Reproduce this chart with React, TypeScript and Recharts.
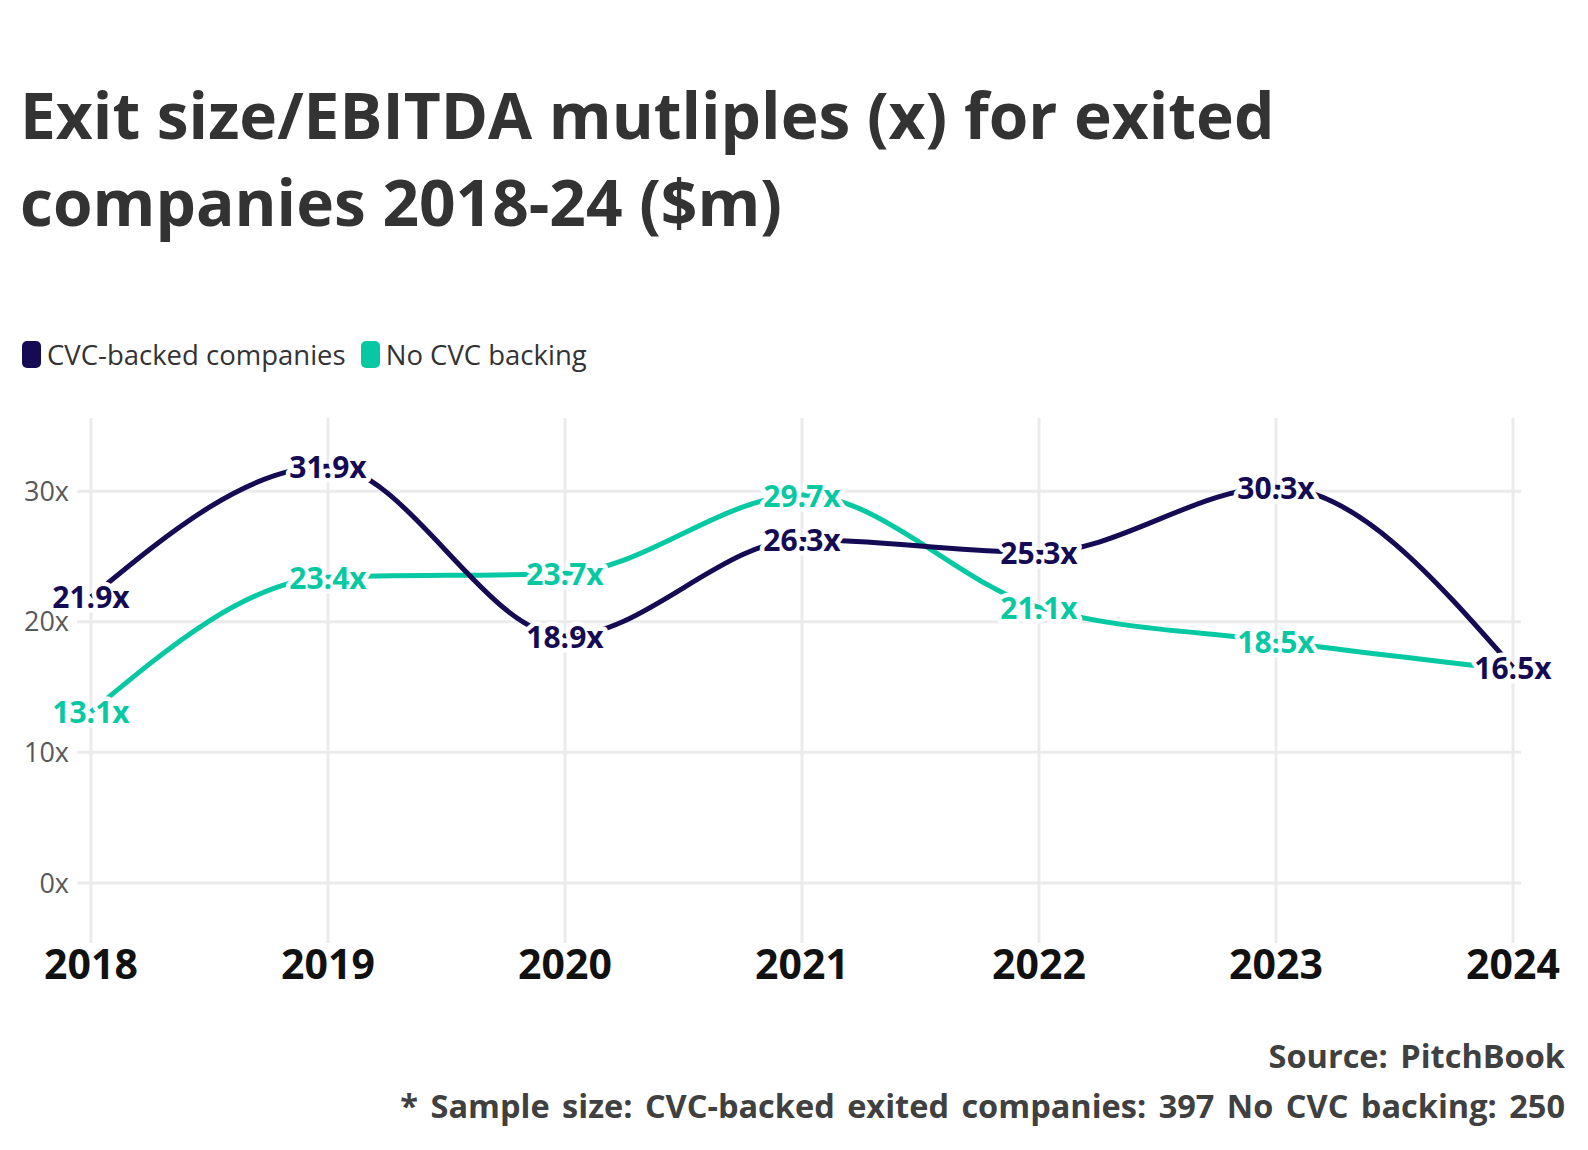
import React from 'react';
import { LineChart, Line, XAxis, YAxis, LabelList, ReferenceLine } from 'recharts';

const years = ['2018', '2019', '2020', '2021', '2022', '2023', '2024'];
const cvcBacked = [21.9, 31.9, 18.9, 26.3, 25.3, 30.3, 16.5];
const noCvc = [13.1, 23.4, 23.7, 29.7, 21.1, 18.5, 16.3];
const yTicks = [0, 10, 20, 30];
const hiddenNoCvcLabels = [6];

const NAVY = '#140B54';
const TEAL = '#06C9A3';
const GRID = '#EBEBEB';
const FONT = '"Open Sans", "Noto Sans", sans-serif';

const data = years.map((y, i) => ({ year: y, cvc: cvcBacked[i], nocvc: noCvc[i] }));

const makeLabel = (color: string, hidden: number[]) => (props: any) => {
  const { x, y, value, index } = props;
  if (hidden.includes(index)) return null;
  return (
    <text
      x={x}
      y={y}
      textAnchor="middle"
      dominantBaseline="central"
      fontFamily={FONT}
      fontWeight={700}
      fontSize={30}
      fill={color}
      stroke="#fff"
      strokeWidth={9}
      strokeLinejoin="round"
      paintOrder="stroke"
    >
      {`${Number(value).toFixed(1)}x`}
    </text>
  );
};

export default function App() {
  return (
    <div style={{ position: 'absolute', left: 0, top: 0, width: 1588, height: 1150, background: '#fff', fontFamily: FONT, overflow: 'hidden' }}>
      <div style={{ position: 'absolute', left: 20, top: 71, fontSize: 64, fontWeight: 700, color: '#333', lineHeight: '87px', width: 1560, whiteSpace: 'nowrap' }}>
        Exit size/EBITDA mutliples (x) for exited<br />companies 2018-24 ($m)
      </div>
      <div style={{ position: 'absolute', left: 22, top: 341, height: 27, display: 'flex', alignItems: 'center', fontSize: 27.5, color: '#333', whiteSpace: 'nowrap' }}>
        <span style={{ display: 'inline-block', width: 19, height: 27, borderRadius: 5, background: NAVY, marginRight: 6 }} />
        <span style={{ marginRight: 15 }}>CVC-backed companies</span>
        <span style={{ display: 'inline-block', width: 19, height: 27, borderRadius: 5, background: TEAL, marginRight: 6 }} />
        <span>No CVC backing</span>
      </div>
      <div style={{ position: 'absolute', left: 0, top: 0 }}>
        <LineChart width={1588} height={1150} data={data} margin={{ top: 418, right: 67, bottom: 147, left: 0 }}>
          <XAxis
            dataKey="year"
            height={60}
            axisLine={false}
            tickLine={false}
            tickSize={0}
            tickMargin={7}
            padding={{ left: 14, right: 8 }}
            tick={{ fontFamily: FONT, fontSize: 41, fontWeight: 700, fill: '#111' }}
            interval={0}
          />
          <YAxis
            width={77}
            domain={[-4.6, 35.6]}
            ticks={yTicks}
            axisLine={false}
            tickLine={false}
            tickSize={0}
            tickMargin={8}
            tickFormatter={(v: number) => `${v}x`}
            tick={{ fontFamily: FONT, fontSize: 27, fill: '#595959' }}
          />
          {yTicks.map((t) => (
            <ReferenceLine key={`h${t}`} y={t} stroke={GRID} strokeWidth={3} />
          ))}
          {years.map((yr) => (
            <ReferenceLine key={`v${yr}`} x={yr} stroke={GRID} strokeWidth={3} />
          ))}
          <Line type="monotone" dataKey="nocvc" stroke={TEAL} strokeWidth={5} dot={false} isAnimationActive={false} />
          <Line type="monotone" dataKey="cvc" stroke={NAVY} strokeWidth={5} dot={false} isAnimationActive={false} />
          <Line type="monotone" dataKey="nocvc" stroke="none" dot={false} isAnimationActive={false} legendType="none">
            <LabelList dataKey="nocvc" content={makeLabel(TEAL, hiddenNoCvcLabels)} />
          </Line>
          <Line type="monotone" dataKey="cvc" stroke="none" dot={false} isAnimationActive={false} legendType="none">
            <LabelList dataKey="cvc" content={makeLabel(NAVY, [])} />
          </Line>
        </LineChart>
      </div>
      <div style={{ position: 'absolute', right: 23, top: 1031, textAlign: 'right', fontSize: 32.5, fontWeight: 700, color: '#404040', lineHeight: '50px', whiteSpace: 'nowrap', wordSpacing: 4 }}>
        Source: PitchBook<br />* Sample size: CVC-backed exited companies: 397 No CVC backing: 250
      </div>
    </div>
  );
}
